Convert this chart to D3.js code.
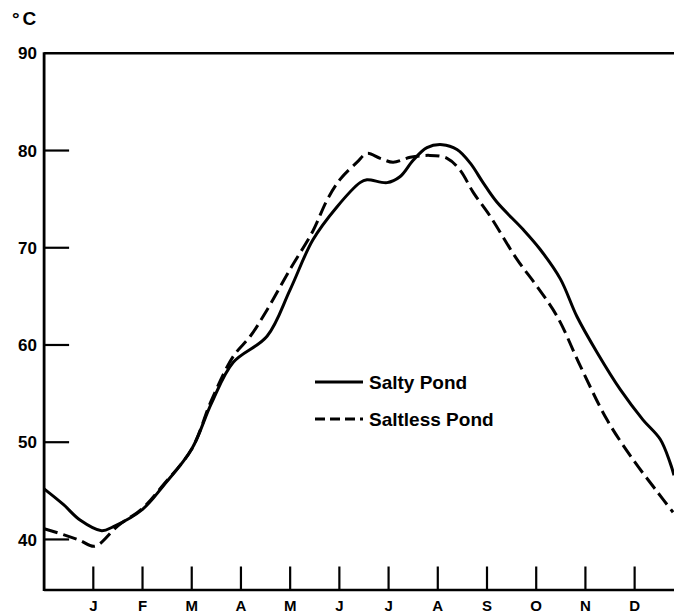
<!DOCTYPE html>
<html>
<head>
<meta charset="utf-8">
<script src="https://cdn.jsdelivr.net/npm/d3@7"></script>
<style>
  body { margin: 0; background: #fff; }
  text { font-family: "Liberation Sans", Arial, sans-serif; font-weight: bold; fill: #000; }
</style>
</head>
<body>
<div id="chart"></div>
<script>
// month ticks sit at positions 1..12, the frame runs from 0 to 12.8
var months = ["J", "F", "M", "A", "M", "J", "J", "A", "S", "O", "N", "D"];
var yTicks = [40, 50, 60, 70, 80, 90];

// salty pond (solid line)
var saltyPos = [0, 0.39, 0.73, 1.17, 1.40, 2.0, 2.42, 3.0, 3.4, 3.84, 4.53, 5.0, 5.46, 5.95, 6.42, 6.56, 6.97, 7.23, 7.50, 7.78, 8.09, 8.39, 8.66, 8.92, 9.20, 9.73, 10.07, 10.49, 10.83, 11.24, 11.71, 12.17, 12.52, 12.72, 12.80];
var saltyTemp = [45.2, 43.6, 42.0, 40.9, 41.3, 43.1, 45.5, 49.3, 54.0, 58.2, 60.9, 65.7, 70.8, 74.2, 76.7, 77.0, 76.7, 77.3, 79.0, 80.3, 80.6, 80.1, 78.7, 76.7, 74.7, 71.9, 69.9, 66.8, 62.9, 59.2, 55.4, 52.3, 50.3, 47.9, 46.6];

// saltless pond (dashed line)
var saltlessPos = [0, 0.39, 0.73, 1.03, 1.50, 2.0, 2.42, 3.0, 3.4, 3.84, 4.19, 4.53, 5.0, 5.46, 5.75, 6.01, 6.36, 6.56, 6.83, 7.09, 7.44, 7.84, 8.19, 8.45, 8.72, 9.07, 9.61, 10.02, 10.43, 10.90, 11.44, 11.97, 12.46, 12.78];
var saltlessTemp = [41.1, 40.5, 39.9, 39.3, 41.4, 43.2, 45.6, 49.3, 54.3, 58.8, 60.9, 63.6, 67.8, 71.7, 74.9, 77.0, 78.8, 79.7, 79.2, 78.8, 79.3, 79.5, 79.2, 78.0, 75.7, 73.2, 68.8, 66.0, 62.9, 57.8, 52.3, 48.2, 44.9, 42.8];

var legendNames = ["Salty Pond", "Saltless Pond"];

var W = 674, H = 615;
var svg = d3.select("#chart").append("svg").attr("width", W).attr("height", H);

var x = d3.scaleLinear().domain([0, 12.8]).range([44.1, 674]);
var y = d3.scaleLinear().domain([34.8, 90]).range([590, 53.3]);

// frame: left, top and bottom lines
svg.append("line").attr("x1", x(0)).attr("x2", x(0)).attr("y1", y(90) - 1).attr("y2", y(34.8) + 1)
    .attr("stroke", "#000").attr("stroke-width", 2.8);
svg.append("line").attr("x1", x(0)).attr("x2", W).attr("y1", y(90)).attr("y2", y(90))
    .attr("stroke", "#000").attr("stroke-width", 2.4);
svg.append("line").attr("x1", x(0)).attr("x2", W).attr("y1", y(34.8)).attr("y2", y(34.8))
    .attr("stroke", "#000").attr("stroke-width", 2.6);

// y ticks pointing inward, labels on the left
svg.selectAll(".ytick").data(yTicks.filter(d => d < 90)).enter().append("line")
    .attr("x1", x(0)).attr("x2", x(0) + 25)
    .attr("y1", d => y(d)).attr("y2", d => y(d))
    .attr("stroke", "#000").attr("stroke-width", 2.2);
svg.selectAll(".ylab").data(yTicks).enter().append("text")
    .attr("x", 37).attr("y", d => y(d))
    .attr("dy", "0.36em").attr("text-anchor", "end")
    .style("font-size", "17px")
    .text(d => d);

svg.append("text").attr("x", 12).attr("y", 25).style("font-size", "19px")
    .style("letter-spacing", "3px").text("°C");

// month ticks and labels
svg.selectAll(".xtick").data(months).enter().append("line")
    .attr("x1", (d, i) => x(i + 1)).attr("x2", (d, i) => x(i + 1))
    .attr("y1", 566.5).attr("y2", y(34.8))
    .attr("stroke", "#000").attr("stroke-width", 2.2);
svg.selectAll(".xlab").data(months).enter().append("text")
    .attr("x", (d, i) => x(i + 1)).attr("y", 611)
    .attr("text-anchor", "middle")
    .style("font-size", "15px")
    .text(d => d);

var line = d3.line()
    .x(d => x(d[0]))
    .y(d => y(d[1]))
    .curve(d3.curveCatmullRom.alpha(0.5));

svg.append("path")
    .datum(d3.zip(saltyPos, saltyTemp))
    .attr("d", line)
    .attr("fill", "none").attr("stroke", "#000").attr("stroke-width", 3);

svg.append("path")
    .datum(d3.zip(saltlessPos, saltlessTemp))
    .attr("d", line)
    .attr("fill", "none").attr("stroke", "#000").attr("stroke-width", 3)
    .attr("stroke-dasharray", "14,6");

// legend
var legend = svg.append("g").attr("transform", "translate(315,382)");
legendNames.forEach(function (name, i) {
    legend.append("line")
        .attr("x1", 0).attr("x2", 48).attr("y1", i * 37).attr("y2", i * 37)
        .attr("stroke", "#000").attr("stroke-width", 3)
        .attr("stroke-dasharray", i ? "10,5" : null);
    legend.append("text")
        .attr("x", 54).attr("y", i * 37).attr("dy", "0.36em")
        .style("font-size", "19px")
        .text(name);
});
</script>
</body>
</html>
